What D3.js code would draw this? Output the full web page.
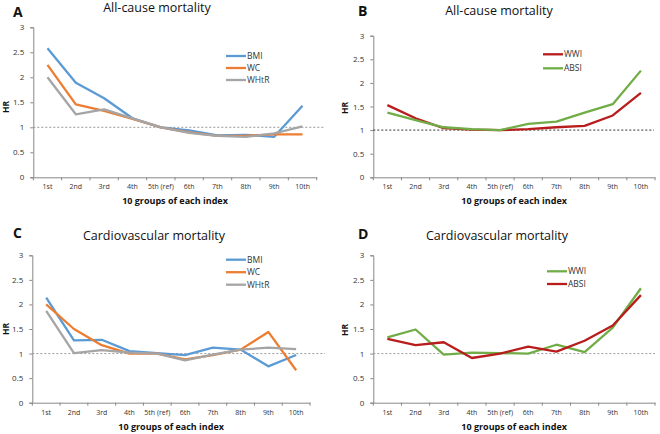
<!doctype html>
<html>
<head>
<style>
  body { margin: 0; background: #fff; }
  svg text { font-family: "Open Sans", "Noto Sans", sans-serif; }
</style>
</head>
<body>
    <div class="container"></div>

    <script src="https://d3js.org/d3.v7.min.js"></script>

    <script>
        // categories (10 groups of each index)
        const groups = ['1st', '2nd', '3rd', '4th', '5th (ref)', '6th', '7th', '8th', '9th', '10th'];
        const yTicks = [0, 0.5, 1, 1.5, 2, 2.5, 3];

        // A: all-cause mortality
        const allBMI  = [2.58, 1.89, 1.58, 1.18, 1.00, 0.94, 0.84, 0.85, 0.81, 1.43];
        const allWC   = [2.25, 1.46, 1.33, 1.17, 1.00, 0.90, 0.83, 0.83, 0.86, 0.86];
        const allWHtR = [2.00, 1.26, 1.36, 1.18, 1.00, 0.89, 0.83, 0.81, 0.88, 1.02];

        // B: all-cause mortality
        const allWWI  = [1.53, 1.25, 1.04, 1.01, 1.00, 1.02, 1.06, 1.09, 1.31, 1.79];
        const allABSI = [1.37, 1.21, 1.06, 1.02, 1.00, 1.13, 1.18, 1.37, 1.55, 2.26];

        // C: cardiovascular mortality
        const cvdBMI  = [2.14, 1.27, 1.28, 1.05, 1.01, 0.97, 1.12, 1.08, 0.74, 0.97];
        const cvdWC   = [2.00, 1.50, 1.17, 1.00, 1.00, 0.88, 0.97, 1.08, 1.44, 0.66];
        const cvdWHtR = [1.87, 1.01, 1.07, 1.02, 1.00, 0.86, 0.98, 1.08, 1.12, 1.09];

        // D: cardiovascular mortality
        const cvdWWI  = [1.33, 1.49, 0.98, 1.02, 1.01, 1.00, 1.18, 1.03, 1.53, 2.33];
        const cvdABSI = [1.30, 1.17, 1.23, 0.91, 1.00, 1.14, 1.04, 1.26, 1.57, 2.19];

        const colors = { BMI: '#5b9bd5', WC: '#ed7d31', WHtR: '#a5a5a5', red: '#b81c1c', green: '#70ad47' };

        const panels = [
            { letter: 'A', title: 'All-cause mortality', x0: 33.3, x1: 316.7, y0: 177.3, y3: 27.3, refEnd: 325, refColor: '#999',
              titleX: 157, titleY: 12, letterX: 13, letterY: 16.5, hrX: 9, hrY: 107,
              legX: 226, legY: 56, legGap: 12,
              series: [{ name: 'BMI', values: allBMI, color: colors.BMI },
                       { name: 'WC', values: allWC, color: colors.WC },
                       { name: 'WHtR', values: allWHtR, color: colors.WHtR }] },
            { letter: 'B', title: 'All-cause mortality', x0: 373.3, x1: 655, y0: 177.3, y3: 35.7, refEnd: 654, refColor: '#333',
              titleX: 499, titleY: 15, letterX: 358, letterY: 15.5, hrX: 348, hrY: 108,
              legX: 543, legY: 54.3, legGap: 14,
              series: [{ name: 'WWI', values: allWWI, color: colors.red },
                       { name: 'ABSI', values: allABSI, color: colors.green }] },
            { letter: 'C', title: 'Cardiovascular mortality', x0: 32.3, x1: 310, y0: 402.7, y3: 255.3, refEnd: 325, refColor: '#999',
              titleX: 154, titleY: 240, letterX: 13, letterY: 237.5, hrX: 9, hrY: 329,
              legX: 226, legY: 259.7, legGap: 12.5,
              series: [{ name: 'BMI', values: cvdBMI, color: colors.BMI },
                       { name: 'WC', values: cvdWC, color: colors.WC },
                       { name: 'WHtR', values: cvdWHtR, color: colors.WHtR }] },
            { letter: 'D', title: 'Cardiovascular mortality', x0: 373.3, x1: 655, y0: 402.7, y3: 255.3, refEnd: 655, refColor: '#999',
              titleX: 497, titleY: 240, letterX: 358, letterY: 238.5, hrX: 348, hrY: 330,
              legX: 547, legY: 271.3, legGap: 12.7,
              series: [{ name: 'WWI', values: cvdWWI, color: colors.green },
                       { name: 'ABSI', values: cvdABSI, color: colors.red }] }
        ];

        const svg = d3.select('.container').append('svg').attr('width', 660).attr('height', 434);

        panels.forEach(p => {
            const g = svg.append('g');
            const x = d3.scaleBand().domain(groups).range([p.x0, p.x1]);
            const y = d3.scaleLinear().domain([0, 3]).range([p.y0, p.y3]);

            // y axis
            const yAxis = g.append('g').attr('transform', `translate(${p.x0},0)`)
                .call(d3.axisLeft(y).tickValues(yTicks).tickSize(3).tickPadding(6).tickFormat(d => d));
            yAxis.selectAll('line, path').attr('stroke', '#888');
            yAxis.selectAll('text').attr('font-size', 8).attr('fill', '#333');

            // x axis with ticks between categories
            const xAxis = g.append('g').attr('transform', `translate(0,${p.y0})`)
                .call(d3.axisBottom(x).tickSize(0).tickPadding(7));
            xAxis.select('.domain').attr('stroke', '#888');
            xAxis.selectAll('text').attr('font-size', 7).attr('fill', '#333');
            const bounds = groups.map(d => x(d)).concat([p.x1]);
            xAxis.selectAll('.sep').data(bounds).enter().append('line')
                .attr('x1', d => d).attr('x2', d => d).attr('y1', 0).attr('y2', 3)
                .attr('stroke', '#888');

            // reference line at HR = 1
            g.append('line')
                .attr('x1', p.x0).attr('x2', p.refEnd)
                .attr('y1', y(1)).attr('y2', y(1))
                .attr('stroke', p.refColor).attr('stroke-width', 1)
                .attr('stroke-dasharray', '2,2');

            const line = d3.line()
                .x((d, i) => x(groups[i]) + x.bandwidth() / 2)
                .y(d => y(d));

            p.series.forEach(s => {
                g.append('path').datum(s.values)
                    .attr('d', line)
                    .attr('fill', 'none')
                    .attr('stroke', s.color)
                    .attr('stroke-width', 2.3)
                    .attr('stroke-linejoin', 'round');
            });

            // legend
            p.series.forEach((s, i) => {
                const ly = p.legY + i * p.legGap;
                g.append('line').attr('x1', p.legX).attr('x2', p.legX + 20)
                    .attr('y1', ly).attr('y2', ly)
                    .attr('stroke', s.color).attr('stroke-width', 2.3);
                g.append('text').attr('x', p.legX + 21).attr('y', ly + 3)
                    .attr('font-size', 8.5).attr('fill', '#333').text(s.name);
            });

            // titles
            g.append('text').attr('x', p.titleX).attr('y', p.titleY)
                .attr('text-anchor', 'middle').attr('font-size', 12.5).attr('fill', '#111')
                .text(p.title);
            g.append('text').attr('x', p.letterX).attr('y', p.letterY)
                .attr('font-family', 'Liberation Sans, Arial, sans-serif')
                .attr('font-weight', 'bold').attr('font-size', 14).attr('fill', '#111')
                .text(p.letter);
            g.append('text')
                .attr('transform', `translate(${p.hrX},${p.hrY}) rotate(-90)`)
                .attr('text-anchor', 'middle').attr('font-size', 8.5)
                .attr('font-weight', 'bold').attr('fill', '#111').text('HR');
            g.append('text').attr('x', (p.x0 + p.x1) / 2).attr('y', p.y0 + 27)
                .attr('text-anchor', 'middle').attr('font-size', 9)
                .attr('font-weight', 'bold').attr('fill', '#111')
                .text('10 groups of each index');
        });
    </script>
</body>
</html>
